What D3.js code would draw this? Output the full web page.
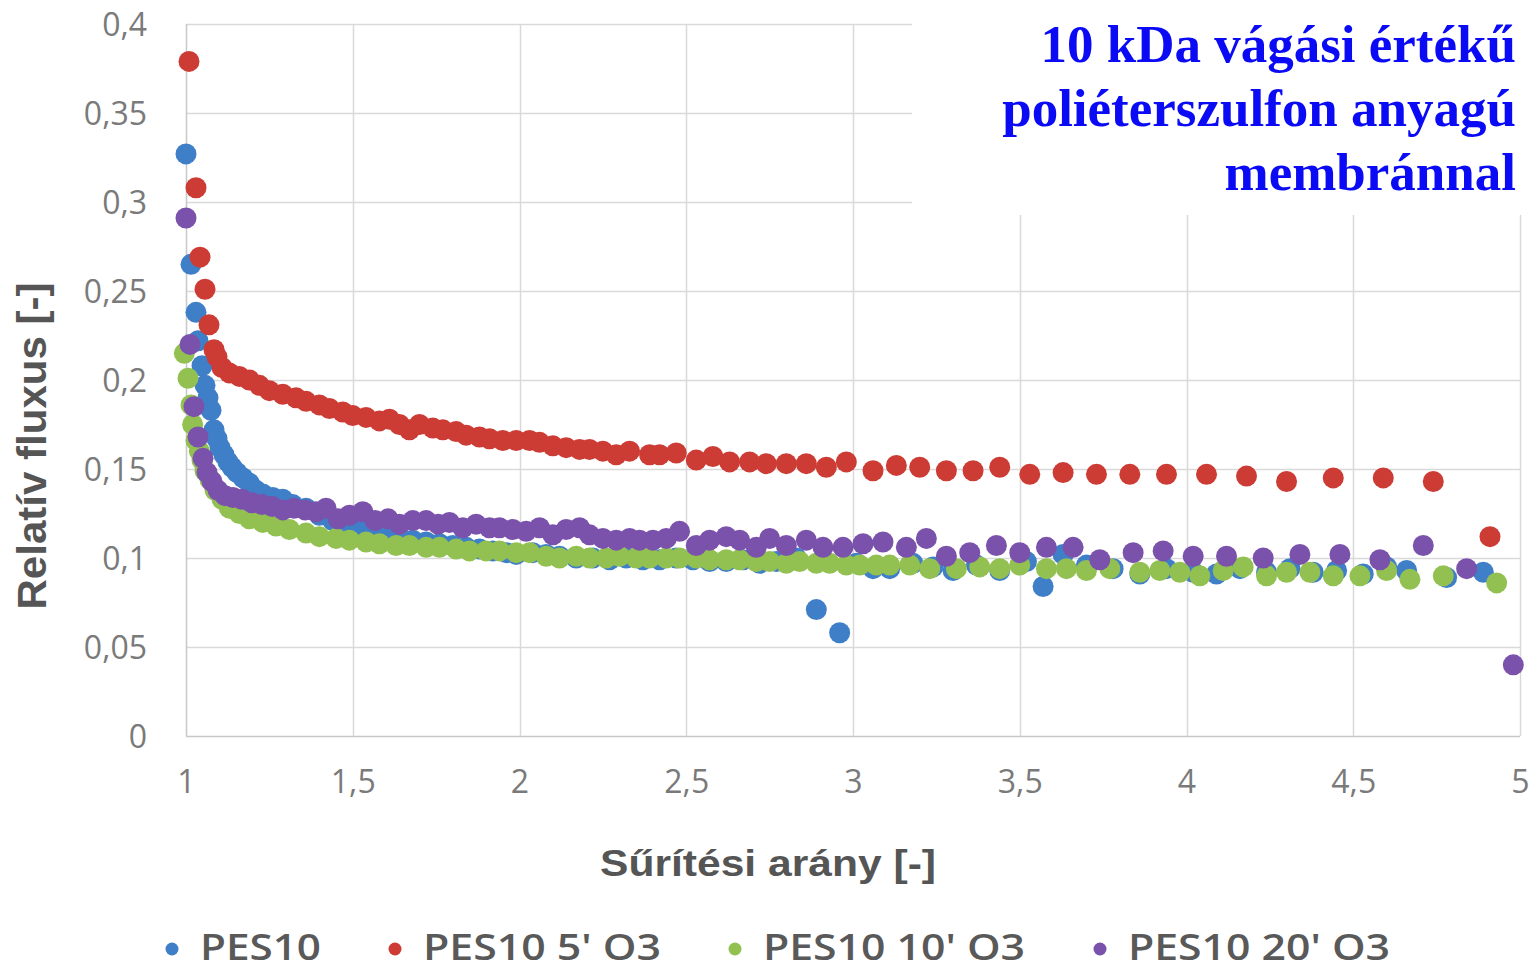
<!DOCTYPE html>
<html>
<head>
<meta charset="utf-8">
<script src="https://cdn.jsdelivr.net/npm/d3@7"></script>
<style>
  html, body { margin: 0; padding: 0; background: #fff; }
  svg { display: block; }
</style>
</head>
<body>
<svg id="chart" width="1537" height="970"></svg>
<script>
// ---------- DATA ----------
const seriesNames = ["PES10", "PES10 5' O3", "PES10 10' O3", "PES10 20' O3"];
const seriesColors = ["#3f7fc8", "#cc3b34", "#92c152", "#7b52ab"];
const titleLines = ["10 kDa vágási értékű", "poliéterszulfon anyagú", "membránnal"];
const xTicks = [1, 1.5, 2, 2.5, 3, 3.5, 4, 4.5, 5];
const yTicks = [0, 0.05, 0.1, 0.15, 0.2, 0.25, 0.3, 0.35, 0.4];
const xTitle = "Sűrítési arány [-]";
const yTitle = "Relatív fluxus [-]";

// PES10 (blue)
const pes10 = [
 [1.0,0.327],[1.015,0.265],[1.03,0.238],[1.036,0.222],[1.048,0.208],[1.057,0.197],[1.066,0.190],
 [1.075,0.183],[1.084,0.172],[1.093,0.167],[1.102,0.162],[1.114,0.158],[1.126,0.154],[1.138,0.151],
 [1.153,0.148],[1.171,0.145],[1.19,0.142],[1.21,0.138],[1.23,0.136],[1.26,0.134],[1.29,0.133],
 [1.32,0.130],[1.36,0.128],[1.40,0.124],[1.44,0.121],[1.48,0.119],[1.52,0.117],[1.56,0.115],
 [1.60,0.113],[1.64,0.112],[1.68,0.110],[1.72,0.109],[1.76,0.108],[1.80,0.107],[1.84,0.106],
 [1.88,0.105],[1.92,0.104],[1.96,0.103],[1.99,0.102],[2.04,0.103],[2.08,0.102],[2.12,0.101],
 [2.17,0.100],[2.22,0.100],[2.27,0.099],[2.32,0.100],[2.37,0.099],[2.42,0.099],[2.47,0.100],
 [2.52,0.099],[2.57,0.098],[2.62,0.098],[2.67,0.099],[2.72,0.097],[2.77,0.098],[2.83,0.100],
 [2.89,0.071],[2.96,0.058],[3.01,0.097],[3.06,0.094],[3.11,0.094],[3.18,0.097],[3.24,0.095],
 [3.30,0.093],[3.37,0.096],[3.44,0.093],[3.52,0.098],[3.57,0.084],[3.63,0.102],[3.70,0.096],
 [3.78,0.094],[3.86,0.091],[3.94,0.094],[4.02,0.092],[4.09,0.091],[4.16,0.094],[4.24,0.092],
 [4.31,0.094],[4.38,0.092],[4.45,0.093],[4.53,0.091],[4.60,0.095],[4.66,0.093],[4.78,0.089],
 [4.89,0.092]
];

// PES10 5' O3 (red)
const pes10_5 = [
 [1.009,0.379],[1.03,0.308],[1.042,0.269],[1.057,0.251],[1.069,0.231],[1.084,0.217],[1.093,0.213],
 [1.108,0.207],[1.13,0.204],[1.16,0.202],[1.19,0.200],[1.22,0.197],[1.25,0.194],[1.29,0.192],
 [1.33,0.190],[1.36,0.188],[1.40,0.186],[1.43,0.184],[1.47,0.182],[1.50,0.180],[1.54,0.179],
 [1.58,0.177],[1.61,0.178],[1.64,0.175],[1.67,0.172],[1.70,0.175],[1.74,0.173],[1.77,0.172],
 [1.81,0.171],[1.84,0.169],[1.88,0.168],[1.91,0.167],[1.95,0.166],[1.99,0.166],[2.03,0.166],
 [2.06,0.165],[2.10,0.163],[2.14,0.162],[2.18,0.161],[2.21,0.161],[2.25,0.160],[2.29,0.158],
 [2.33,0.160],[2.39,0.158],[2.42,0.158],[2.47,0.159],[2.53,0.155],[2.58,0.157],[2.63,0.154],
 [2.69,0.154],[2.74,0.153],[2.80,0.153],[2.86,0.153],[2.92,0.151],[2.98,0.154],[3.06,0.149],
 [3.13,0.152],[3.20,0.151],[3.28,0.149],[3.36,0.149],[3.44,0.151],[3.53,0.147],[3.63,0.148],
 [3.73,0.147],[3.83,0.147],[3.94,0.147],[4.06,0.147],[4.18,0.146],[4.30,0.143],[4.44,0.145],
 [4.59,0.145],[4.74,0.143],[4.91,0.112]
];

// PES10 10' O3 (green)
const pes10_10 = [
 [0.995,0.215],[1.006,0.201],[1.015,0.186],[1.02,0.175],[1.03,0.166],[1.04,0.160],[1.048,0.155],
 [1.057,0.149],[1.072,0.144],[1.087,0.138],[1.108,0.133],[1.13,0.128],[1.16,0.125],[1.19,0.122],
 [1.23,0.120],[1.27,0.118],[1.31,0.116],[1.36,0.114],[1.40,0.112],[1.45,0.111],[1.49,0.110],
 [1.54,0.109],[1.58,0.108],[1.63,0.107],[1.67,0.107],[1.72,0.106],[1.76,0.106],[1.81,0.105],
 [1.85,0.104],[1.90,0.104],[1.94,0.104],[1.99,0.103],[2.03,0.103],[2.08,0.101],[2.12,0.100],
 [2.17,0.101],[2.21,0.100],[2.26,0.100],[2.30,0.101],[2.35,0.100],[2.39,0.100],[2.44,0.100],
 [2.48,0.100],[2.53,0.100],[2.57,0.099],[2.62,0.099],[2.66,0.099],[2.71,0.098],[2.75,0.098],
 [2.80,0.097],[2.84,0.098],[2.89,0.097],[2.93,0.097],[2.98,0.096],[3.02,0.096],[3.07,0.096],
 [3.11,0.096],[3.17,0.096],[3.23,0.094],[3.31,0.094],[3.38,0.095],[3.44,0.094],[3.50,0.096],
 [3.58,0.094],[3.64,0.094],[3.70,0.093],[3.77,0.094],[3.86,0.092],[3.92,0.093],[3.98,0.092],
 [4.04,0.090],[4.11,0.093],[4.17,0.095],[4.24,0.090],[4.30,0.092],[4.37,0.092],[4.44,0.090],
 [4.52,0.090],[4.60,0.093],[4.67,0.088],[4.77,0.090],[4.93,0.086]
];

// PES10 20' O3 (purple)
const pes10_20 = [
 [1.0,0.291],[1.012,0.220],[1.024,0.185],[1.036,0.168],[1.051,0.156],[1.063,0.148],[1.078,0.143],
 [1.096,0.138],[1.117,0.135],[1.141,0.134],[1.168,0.133],[1.198,0.131],[1.228,0.130],[1.258,0.129],
 [1.291,0.127],[1.324,0.128],[1.357,0.127],[1.39,0.126],[1.42,0.128],[1.456,0.122],[1.49,0.124],
 [1.53,0.126],[1.567,0.121],[1.606,0.122],[1.64,0.119],[1.68,0.121],[1.72,0.121],[1.756,0.119],
 [1.79,0.120],[1.83,0.117],[1.87,0.119],[1.91,0.117],[1.94,0.117],[1.98,0.116],[2.02,0.115],
 [2.06,0.117],[2.10,0.113],[2.14,0.116],[2.18,0.117],[2.21,0.113],[2.25,0.111],[2.29,0.110],
 [2.33,0.111],[2.36,0.110],[2.40,0.110],[2.44,0.111],[2.48,0.115],[2.53,0.107],[2.57,0.110],
 [2.62,0.112],[2.66,0.110],[2.71,0.106],[2.75,0.111],[2.80,0.107],[2.86,0.110],[2.91,0.106],
 [2.97,0.106],[3.03,0.108],[3.09,0.109],[3.16,0.106],[3.22,0.111],[3.28,0.101],[3.35,0.103],
 [3.43,0.107],[3.50,0.103],[3.58,0.106],[3.66,0.106],[3.74,0.099],[3.84,0.103],[3.93,0.104],
 [4.02,0.101],[4.12,0.101],[4.23,0.100],[4.34,0.102],[4.46,0.102],[4.58,0.099],[4.71,0.107],
 [4.84,0.094],[4.98,0.040]
];

const allSeries = [pes10, pes10_5, pes10_10, pes10_20];

// ---------- CHART ----------
const svg = d3.select("#chart");
const x = d3.scaleLinear().domain([1, 5]).range([186, 1520]);
const y = d3.scaleLinear().domain([0, 0.4]).range([736, 24]);
const fmt = d => String(d).replace(".", ",");

const gridColor = "#d9d9d9";

// horizontal gridlines
svg.append("g").selectAll("line").data(yTicks).join("line")
  .attr("x1", x(1)).attr("x2", x(5))
  .attr("y1", d => Math.round(y(d)) + 0.5).attr("y2", d => Math.round(y(d)) + 0.5)
  .attr("stroke", d => d === 0 ? "#c8c8c8" : gridColor).attr("stroke-width", 1.5);

// vertical gridlines
svg.append("g").selectAll("line").data(xTicks).join("line")
  .attr("x1", d => Math.round(x(d)) + 0.5).attr("x2", d => Math.round(x(d)) + 0.5)
  .attr("y1", y(0.4)).attr("y2", y(0))
  .attr("stroke", d => d === 1 ? "#c8c8c8" : gridColor).attr("stroke-width", 1.5);

// white box behind title
svg.append("rect").attr("x", 912).attr("y", 0).attr("width", 625).attr("height", 215).attr("fill", "#fff");

// y tick labels
const yAxis = d3.axisLeft(y).tickValues(yTicks).tickFormat(fmt).tickSize(0).tickPadding(0);
const gy = svg.append("g").attr("transform", "translate(147,0)").call(yAxis);
gy.select(".domain").remove();
gy.selectAll("text").attr("font-family", "'Open Sans', sans-serif").attr("font-size", 32)
  .attr("fill", "#7a7a7a").attr("dy", "0.35em");

// x tick labels
const xAxis = d3.axisBottom(x).tickValues(xTicks).tickFormat(fmt).tickSize(0).tickPadding(0);
const gx = svg.append("g").attr("transform", "translate(0,770)").call(xAxis);
gx.select(".domain").remove();
gx.selectAll("text").attr("font-family", "'Open Sans', sans-serif").attr("font-size", 32)
  .attr("fill", "#7a7a7a").attr("dy", "0.72em");

// axis titles
svg.append("text").attr("x", 768).attr("y", 876).attr("text-anchor", "middle")
  .attr("font-family", "'Liberation Sans', Arial, sans-serif").attr("font-weight", "bold")
  .attr("font-size", 37).attr("fill", "#555555")
  .attr("textLength", 336).attr("lengthAdjust", "spacingAndGlyphs")
  .text(xTitle);

svg.append("text").attr("transform", "translate(46,446) rotate(-90)").attr("text-anchor", "middle")
  .attr("font-family", "'Liberation Sans', Arial, sans-serif").attr("font-weight", "bold")
  .attr("font-size", 40).attr("fill", "#555555")
  .attr("textLength", 327).attr("lengthAdjust", "spacingAndGlyphs")
  .text(yTitle);

// points
allSeries.forEach((data, i) => {
  svg.append("g").selectAll("circle").data(data).join("circle")
    .attr("cx", d => x(d[0])).attr("cy", d => y(d[1])).attr("r", 10.5)
    .attr("fill", seriesColors[i]);
});

// title
const title = svg.append("text").attr("text-anchor", "end")
  .attr("font-family", "'Liberation Serif', 'Times New Roman', serif").attr("font-weight", "bold")
  .attr("font-size", 53).attr("fill", "#0a0af5");
titleLines.forEach((t, i) => {
  title.append("tspan").attr("x", 1516).attr("y", 62 + i * 64).text(t);
});

// legend
const legendX = [172, 395, 735, 1100];
const legendW = [121, 238, 262, 262];
const leg = svg.append("g");
seriesNames.forEach((n, i) => {
  leg.append("circle").attr("cx", legendX[i]).attr("cy", 949).attr("r", 6.5).attr("fill", seriesColors[i]);
  leg.append("text").attr("x", legendX[i] + 28).attr("y", 960)
    .attr("font-family", "'Open Sans', sans-serif").attr("font-size", 36).attr("font-weight", 600)
    .attr("fill", "#595959")
    .attr("textLength", legendW[i]).attr("lengthAdjust", "spacingAndGlyphs")
    .text(n);
});
</script>
</body>
</html>
